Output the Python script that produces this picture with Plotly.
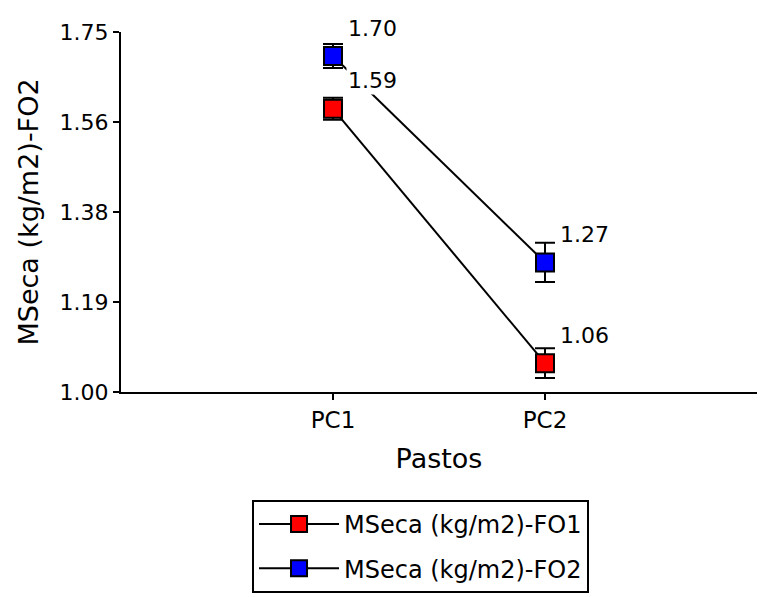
import plotly.graph_objects as go

categories = ["PC1", "PC2"]
fo1_values = [1.59, 1.06]
fo2_values = [1.70, 1.27]
fo1_err = [0.023, 0.031]
fo2_err = [0.025, 0.041]
fo1_labels = ["1.59", "1.06"]
fo2_labels = ["1.70", "1.27"]
y_ticks = [1.0, 1.1875, 1.375, 1.5625, 1.75]
y_ticklabels = ["1.00", "1.19", "1.38", "1.56", "1.75"]

font = "DejaVu Sans, Arial, sans-serif"

fig = go.Figure()
fig.add_trace(go.Scatter(
    x=categories, y=fo1_values, mode="lines+markers", name="MSeca (kg/m2)-FO1",
    line=dict(color="black", width=2),
    marker=dict(symbol="square", size=18, color="#ff0000", line=dict(color="black", width=2)),
    error_y=dict(type="data", array=fo1_err, color="black", thickness=2, width=10),
    legendgroup="a",
))
fig.add_trace(go.Scatter(
    x=categories, y=fo2_values, mode="lines+markers", name="MSeca (kg/m2)-FO2",
    line=dict(color="black", width=2),
    marker=dict(symbol="square", size=18, color="#0000ff", line=dict(color="black", width=2)),
    error_y=dict(type="data", array=fo2_err, color="black", thickness=2, width=10),
    legendgroup="b",
))

for vals, labs in ((fo1_values, fo1_labels), (fo2_values, fo2_labels)):
    for c, v, t in zip(categories, vals, labs):
        fig.add_annotation(x=c, y=v, text=t, showarrow=False, xanchor="left", yanchor="middle",
                           xshift=13, yshift=28, bgcolor="white",
                           font=dict(family=font, size=22, color="black"))

fig.update_layout(
    width=761, height=597,
    margin=dict(l=121, r=4, t=32, b=202),
    plot_bgcolor="white", paper_bgcolor="white",
    font=dict(family=font, color="black"),
    showlegend=True,
    legend=dict(x=0.206, y=-0.30, xanchor="left", yanchor="top",
                bordercolor="black", borderwidth=2, bgcolor="white",
                font=dict(family=font, size=24, color="black"),
                tracegroupgap=10, itemwidth=80, entrywidth=375, entrywidthmode="pixels"),
    xaxis=dict(type="category", range=[-1, 2], showline=True, linecolor="black", linewidth=2,
               ticks="outside", ticklen=6, tickwidth=2, tickcolor="black",
               showgrid=False, zeroline=False,
               tickfont=dict(family=font, size=23),
               title=dict(text="Pastos", font=dict(family=font, size=27), standoff=18)),
    yaxis=dict(range=[1.0, 1.75], tickmode="array", tickvals=y_ticks, ticktext=y_ticklabels,
               showline=True, linecolor="black", linewidth=2,
               ticks="outside", ticklen=6, tickwidth=2, tickcolor="black",
               showgrid=False, zeroline=False,
               tickfont=dict(family=font, size=22),
               title=dict(text="MSeca (kg/m2)-FO2", font=dict(family=font, size=27), standoff=13)),
)

fig.write_html("out.html")
